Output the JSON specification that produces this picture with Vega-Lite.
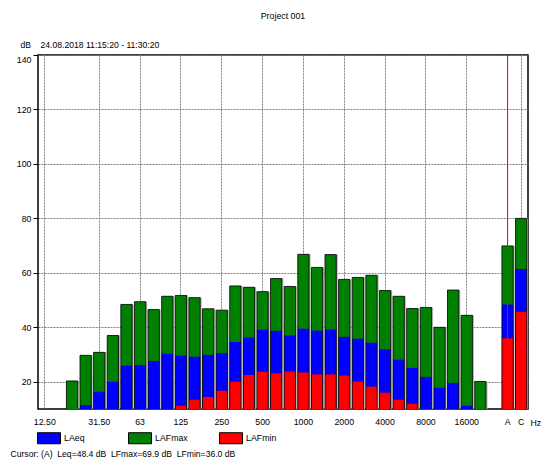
{
  "$schema": "https://vega.github.io/schema/vega-lite/v6.json",
  "width": 490,
  "height": 354,
  "autosize": {"type": "none"},
  "padding": {"left": 38, "top": 55, "right": 14, "bottom": 52},
  "background": "white",
  "config": {
    "font": "Liberation Sans",
    "view": {"stroke": "#000", "strokeWidth": 1.5},
    "axis": {"labelFont": "Liberation Sans", "labelFontSize": 8.8, "labelColor": "#000", "titleFont": "Liberation Sans", "titleFontSize": 8.6, "titleFontWeight": "normal", "titleColor": "#000"},
    "legend": {"labelFont": "Liberation Sans", "labelFontSize": 8.8, "labelColor": "#000"}
  },
  "title": {"text": "Project 001", "anchor": "middle", "frame": "group", "offset": 19, "fontSize": 8.8, "fontWeight": "normal", "font": "Liberation Sans", "color": "#000"},
  "data": {"values": [
    {"band": "20", "LAFmax": 20.3, "LAeq": null, "LAFmin": null},
    {"band": "25", "LAFmax": 29.7, "LAeq": 11.4, "LAFmin": null},
    {"band": "31.50", "LAFmax": 30.8, "LAeq": 16.3, "LAFmin": null},
    {"band": "40", "LAFmax": 37.0, "LAeq": 20.0, "LAFmin": null},
    {"band": "50", "LAFmax": 48.4, "LAeq": 25.9, "LAFmin": null},
    {"band": "63", "LAFmax": 49.4, "LAeq": 26.1, "LAFmin": null},
    {"band": "80", "LAFmax": 46.5, "LAeq": 27.6, "LAFmin": null},
    {"band": "100", "LAFmax": 51.4, "LAeq": 30.3, "LAFmin": null},
    {"band": "125", "LAFmax": 51.7, "LAeq": 29.6, "LAFmin": 11.2},
    {"band": "160", "LAFmax": 50.9, "LAeq": 29.2, "LAFmin": 13.4},
    {"band": "200", "LAFmax": 46.8, "LAeq": 29.9, "LAFmin": 14.4},
    {"band": "250", "LAFmax": 46.3, "LAeq": 30.5, "LAFmin": 16.7},
    {"band": "315", "LAFmax": 55.2, "LAeq": 34.6, "LAFmin": 20.0},
    {"band": "400", "LAFmax": 54.7, "LAeq": 36.2, "LAFmin": 22.5},
    {"band": "500", "LAFmax": 53.1, "LAeq": 39.1, "LAFmin": 23.7},
    {"band": "630", "LAFmax": 57.9, "LAeq": 38.7, "LAFmin": 23.1},
    {"band": "800", "LAFmax": 55.0, "LAeq": 37.0, "LAFmin": 23.8},
    {"band": "1000", "LAFmax": 66.8, "LAeq": 39.5, "LAFmin": 23.4},
    {"band": "1250", "LAFmax": 62.0, "LAeq": 38.8, "LAFmin": 22.7},
    {"band": "1600", "LAFmax": 66.7, "LAeq": 39.2, "LAFmin": 22.7},
    {"band": "2000", "LAFmax": 57.6, "LAeq": 36.5, "LAFmin": 22.3},
    {"band": "2500", "LAFmax": 58.3, "LAeq": 35.8, "LAFmin": 20.1},
    {"band": "3150", "LAFmax": 59.1, "LAeq": 34.3, "LAFmin": 18.2},
    {"band": "4000", "LAFmax": 53.5, "LAeq": 31.9, "LAFmin": 16.0},
    {"band": "5000", "LAFmax": 51.4, "LAeq": 28.1, "LAFmin": 13.4},
    {"band": "6300", "LAFmax": 46.9, "LAeq": 25.1, "LAFmin": 11.9},
    {"band": "8000", "LAFmax": 47.3, "LAeq": 21.8, "LAFmin": null},
    {"band": "10000", "LAFmax": 40.0, "LAeq": 17.8, "LAFmin": null},
    {"band": "12500", "LAFmax": 53.7, "LAeq": 19.6, "LAFmin": null},
    {"band": "16000", "LAFmax": 44.4, "LAeq": 11.2, "LAFmin": null},
    {"band": "20000", "LAFmax": 20.1, "LAeq": null, "LAFmin": null},
    {"band": "A", "LAFmax": 69.9, "LAeq": 48.4, "LAFmin": 36.0},
    {"band": "C", "LAFmax": 80.0, "LAeq": 61.4, "LAFmin": 45.7}
  ]},
  "encoding": {
    "x": {
      "field": "band",
      "type": "nominal",
      "scale": {
        "domain": ["12.50", "16", "20", "25", "31.50", "40", "50", "63", "80", "100", "125", "160", "200", "250", "315", "400", "500", "630", "800", "1000", "1250", "1600", "2000", "2500", "3150", "4000", "5000", "6300", "8000", "10000", "12500", "16000", "20000", "gap", "A", "C"],
        "paddingInner": 0.17,
        "paddingOuter": 0.085
      },
      "axis": {
        "values": ["12.50", "31.50", "63", "125", "250", "500", "1000", "2000", "4000", "8000", "16000", "A", "C"],
        "bandPosition": 0.5,
        "labelAngle": 0,
        "ticks": false,
        "domain": false,
        "grid": true,
        "gridColor": "#808080",
        "gridDash": [2, 1],
        "gridWidth": 1,
        "labelPadding": 8,
        "labelOverlap": false,
        "labelFlush": false,
        "title": "Cursor: (A)\u00a0\u00a0Leq=48.4 dB\u00a0\u00a0LFmax=69.9 dB\u00a0\u00a0LFmin=36.0 dB",
        "titleX": -28,
        "titleY": 47,
        "titleAlign": "left",
        "titleBaseline": "alphabetic",
        "titleAngle": 0
      }
    }
  },
  "layer": [
    {
      "mark": {"type": "bar", "clip": true, "color": "#b4b4b4"},
      "encoding": {
        "y": {
          "field": "LAFmax",
          "type": "quantitative",
          "scale": {"domain": [10, 140], "nice": false, "zero": false},
          "axis": {
            "orient": "left",
            "values": [20, 40, 60, 80, 100, 120, 140],
            "grid": true,
            "gridColor": "#808080",
            "gridDash": [2, 1],
            "domain": false,
            "ticks": true,
            "tickSize": 5,
            "tickColor": "#000",
            "labelPadding": 2,
            "labelFlush": true,
            "title": "dB\u00a0\u00a0\u00a0\u00a024.08.2018 11:15:20 - 11:30:20",
            "titleAngle": 0,
            "titleX": -18,
            "titleY": -8,
            "titleAlign": "left",
            "titleBaseline": "alphabetic"
          }
        },
        "xOffset": {"value": 1.5}
      }
    },
    {
      "transform": [{"fold": ["LAFmax", "LAeq", "LAFmin"], "as": ["series", "level"]}],
      "mark": {"type": "bar", "clip": true},
      "encoding": {
        "y": {"field": "level", "type": "quantitative", "stack": null, "scale": {"domain": [10, 140], "nice": false, "zero": false}, "axis": null},
        "color": {
          "field": "series",
          "type": "nominal",
          "scale": {"domain": ["LAeq", "LAFmax", "LAFmin"], "range": ["#0000ff", "#008000", "#ff0000"]},
          "legend": {
            "orient": "none",
            "legendX": -1,
            "legendY": 371,
            "direction": "horizontal",
            "columns": 3,
            "title": null,
            "symbolType": "M-1,-0.48H1V0.48H-1Z",
            "symbolSize": 529,
            "symbolOpacity": 1,
            "symbolStrokeColor": "#000",
            "symbolStrokeWidth": 1,
            "labelOffset": 3,
            "gridAlign": "all",
            "columnPadding": 29,
            "padding": 0
          }
        }
      }
    },
    {
      "mark": {"type": "bar", "clip": true, "fill": "transparent", "stroke": "#000", "strokeWidth": 0.8},
      "encoding": {
        "y": {
          "field": "LAFmax",
          "type": "quantitative",
          "scale": {"domain": [10, 140], "nice": false, "zero": false},
          "axis": {
            "orient": "right",
            "labels": false,
            "ticks": false,
            "domain": false,
            "grid": false,
            "title": "Hz",
            "titleAngle": 0,
            "titleX": 2,
            "titleY": 370,
            "titleAlign": "left",
            "titleBaseline": "alphabetic",
            "titleFontSize": 8.8
          }
        }
      }
    },
    {
      "data": {"values": [{"band": "A"}]},
      "mark": {"type": "rule", "color": "#ff0000", "strokeWidth": 1},
      "encoding": {}
    }
  ],
  "resolve": {"axis": {"y": "independent"}}
}
